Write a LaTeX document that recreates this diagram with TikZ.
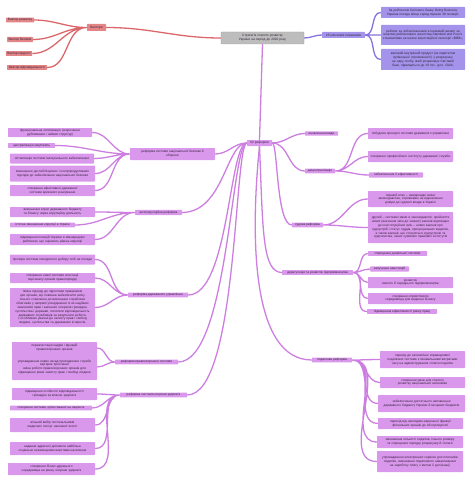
\documentclass[tikz,border=0pt]{standalone}
\usepackage{fontspec}
\setmainfont{Liberation Sans}
\definecolor{rootfill}{HTML}{BDBDBD}
\definecolor{rootline}{HTML}{9E9E9E}
\definecolor{redfill}{HTML}{E38587}
\definecolor{redline}{HTML}{DC676B}
\definecolor{bluefill}{HTML}{A393EA}
\definecolor{blueline}{HTML}{8572DE}
\definecolor{purfill}{HTML}{DA98EC}
\definecolor{purline}{HTML}{CD7FE1}
\definecolor{inktext}{HTML}{33233A}
\hyphenpenalty=10000
\exhyphenpenalty=10000

\begin{document}
\begin{tikzpicture}[x=1pt,y=-1pt,
    every node/.style={font=\fontsize{3.2}{3.85}\selectfont,text=inktext,inner ysep=1pt,inner xsep=1.5pt,align=center,rounded corners=0.6pt},
    rootbox/.style={fill=rootfill,draw=rootline,line width=0.4pt,text width=80pt,minimum height=12pt},
    redbox/.style={fill=redfill},
    bluebox/.style={fill=bluefill},
    purbox/.style={fill=purfill},
    redlink/.style={draw=redline,line width=1.3pt},
    bluelink/.style={draw=blueline,line width=1.3pt},
    purlink/.style={draw=purline,line width=1.3pt}]

    \useasboundingbox (0,0) rectangle (474,484);

    \node[rootbox] (root) at (262.5,38) {Стратегія сталого розвитку України на період до 2020 року};

    \node[redbox,minimum width=19pt,minimum height=7pt] (vec) at (96.5,27.5) {Вектори};
    \node[redbox,minimum width=28pt] (v1) at (20,20) {Вектор розвитку};
    \node[redbox,minimum width=26pt] (v2) at (20,39.5) {Вектор безпеки};
    \node[redbox,minimum width=24pt] (v3) at (19,53.5) {Вектор гордості};
    \node[redbox,minimum width=40pt] (v4) at (27,67.5) {Вектор відповідальності};

    \node[bluebox,minimum width=43pt,minimum height=6pt] (kp) at (343.5,35) {25 ключових показників};
    \node[bluebox,text width=81pt,minimum height=11pt] (b1) at (423,12.5) {За рейтингом Світового банку Doing Business Україна посяде місце серед перших 30 позицій;};
    \node[bluebox,text width=81pt,minimum height=20pt] (b2) at (423,35) {рейтинг за зобов’язаннями в іноземній валюті за шкалою рейтингового агентства Standard and Poor’s становитиме не нижче інвестиційної категорії «ВВВ»;};
    \node[bluebox,text width=81pt,minimum height=21pt] (b3) at (423,59.5) {валовий внутрішній продукт (за паритетом купівельної спроможності) у розрахунку на одну особу, який розраховує Світовий банк, підвищиться до 16 тис. дол. США;};

    \node[purbox,minimum width=25pt,minimum height=6pt] (r62) at (259.5,143) {62 реформи};
    \node[purbox,minimum width=33pt] (ov) at (321.5,133.5) {оновлення влади};
    \node[purbox,minimum width=30pt] (dc) at (320,171) {децентралізація};
    \node[purbox,minimum width=31pt] (sr) at (307.5,225) {судова реформа};
    \node[purbox,minimum width=71pt] (dr) at (317.5,272.5) {дерегуляція та розвиток підприємництва};
    \node[purbox,minimum width=40pt] (pr) at (332,360) {податкова реформа};
    \node[purbox,minimum width=85pt,minimum height=12pt] (nb) at (172.5,154) {реформа системи національної безпеки й\\оборони};
    \node[purbox,minimum width=47pt] (ak) at (158.5,212.5) {антикорупційна реформа};
    \node[purbox,minimum width=60pt] (du) at (158,295) {реформа державного управління};
    \node[purbox,minimum width=63pt] (po) at (146.5,362) {реформа правоохоронної системи};
    \node[purbox,minimum width=67pt] (hs) at (153.5,395) {реформа системи охорони здоров’я};

    \node[purbox,text width=81pt,minimum height=9pt] (nb1) at (50,132.5) {функціональна оптимізація (скорочення дублювання і зайвих структур)};
    \node[purbox,minimum width=47pt] (nb2) at (31.5,145.5) {централізація закупівель};
    \node[purbox,text width=81pt,minimum height=10pt] (nb3) at (52,158.5) {оптимізація системи матеріального забезпечення};
    \node[purbox,text width=82pt,minimum height=16pt] (nb4) at (52.5,173.5) {зменшення дестабілізуючих і контрпродуктивних підходів до забезпечення національної безпеки};
    \node[purbox,text width=82pt,minimum height=11pt] (nb5) at (52.5,190.5) {створення ефективної державної системи кризового реагування};

    \node[purbox,text width=82pt,minimum height=10pt] (ak1) at (52.5,212) {зменшення втрат державного бюджету та бізнесу через корупційну діяльність};
    \node[purbox,minimum width=65pt] (ak2) at (42.5,225) {істотне зменшення корупції в Україні};
    \node[purbox,text width=82pt,minimum height=11pt] (ak3) at (52.5,239.5) {підвищення позицій України в міжнародних рейтингах, що оцінюють рівень корупції};

    \node[purbox,text width=82pt,minimum height=10pt] (du1) at (52.5,259.5) {прозора система конкурсного добору осіб на посади};
    \node[purbox,text width=82pt,minimum height=10pt] (du2) at (52.5,278) {створення нової системи атестації персоналу органів правопорядку};
    \node[purbox,text width=82pt,minimum height=39pt] (du3) at (52.5,307.5) {Зміна підходу до підготовки працівників цих органів, що повинна забезпечити зміну їхнього ставлення до виконання службових обов’язків у напрямі утвердження їх як надійних захисників прав і законних інтересів громадян, суспільства і держави, посилити відповідальність державних службовців за результати роботи, з особливою увагою до захисту прав і свобод людини, суспільства та державних інтересів.};

    \node[purbox,text width=82pt,minimum height=12pt] (po1) at (54.5,348) {переатестація кадрів і функцій правоохоронних органів};
    \node[purbox,text width=82pt,minimum height=26pt] (po2) at (54.5,367) {упровадження нових засад проходження служби\\кар’єрне зростання\\зміна роботи правоохоронних органів для підвищення рівня захисту прав і свобод людини};

    \node[purbox,text width=82pt,minimum height=12pt] (hs1) at (54.5,394) {підвищення особистої відповідальності громадян за власне здоров’я};
    \node[purbox,minimum width=82pt] (hs2) at (51,408) {створення системи, орієнтованої на пацієнта};
    \node[purbox,text width=82pt,minimum height=14pt] (hs3) at (52.5,425) {вільний вибір постачальників медичних послуг належної якості};
    \node[purbox,text width=82pt,minimum height=13pt] (hs4) at (52.5,448.5) {надання адресної допомоги найбільш соціально незахищеним верствам населення};
    \node[purbox,text width=84pt,minimum height=12pt] (hs5) at (51.5,469) {створення бізнес-дружнього середовища на ринку охорони здоров’я};

    \node[purbox,text width=82pt,minimum height=11pt] (dc1) at (410.5,133.5) {побудова прозорої системи державного управління};
    \node[purbox,text width=82pt,minimum height=11pt] (dc2) at (410.5,156.5) {створення професійного інституту державної служби};
    \node[purbox,minimum width=54pt] (dc3) at (396,175) {забезпечення її ефективності};

    \node[purbox,text width=82pt,minimum height=16pt] (sr1) at (410.5,199) {перший етап – невідкладні зміни законодавства, спрямовані на відновлення довіри до судової влади в Україні};
    \node[purbox,text width=82pt,minimum height=31pt] (sr2) at (410.5,227.5) {другий – системні зміни в законодавстві, прийняття нових (внесення змін до чинних) законів відповідно до конституційних змін – нових законів про судоустрій і статус суддів, процесуальних кодексів, а також законів, що стосуються судоустрою та судочинства, інших суміжних правових інститутів};

    \node[purbox,minimum width=59pt] (dr1) at (397.5,253.5) {спрощення дозвільної системи};
    \node[purbox,minimum width=39pt] (dr2) at (389.5,269) {залучення інвестицій};
    \node[purbox,text width=82pt,minimum height=11pt] (dr3) at (410.5,282.5) {розвиток\\малого й середнього підприємництва};
    \node[purbox,text width=82pt,minimum height=11pt] (dr4) at (410.5,298.5) {створення сприятливого середовища для ведення бізнесу};
    \node[purbox,minimum width=70pt] (dr5) at (402,311.5) {підвищення ефективності ринку праці};

    \node[purbox,text width=82pt,minimum height=17pt] (pr1) at (422.5,359.5) {перехід до економічно справедливої податкової системи з мінімальними витратами часу на адміністрування сплати податків};
    \node[purbox,text width=82pt,minimum height=11pt] (pr2) at (422.5,382.5) {створення умов для сталого розвитку національної економіки};
    \node[purbox,text width=84pt,minimum height=17pt] (pr3) at (421.5,403.5) {забезпечення достатнього наповнення державного бюджету України й місцевих бюджетів};
    \node[purbox,text width=82pt,minimum height=11pt] (pr4) at (420.5,423.5) {перехід від наглядово-каральної функції фіскальних органів до обслуговуючої};
    \node[purbox,text width=83pt,minimum height=12pt] (pr5) at (420,442) {зменшення кількості податків, їхнього розміру та спрощення порядку розрахунку й сплати};
    \node[purbox,text width=83pt,minimum height=21pt] (pr6) at (420,461.5) {упровадження електронних сервісів для платників податків, зменшення податкового навантаження на заробітну плату з метою її детінізації};

    \draw[redlink] (root.west) to[out=180,in=0] (vec.east);
    \draw[redlink] (vec.west) to[out=180,in=0] (v1.east) (vec.west) to[out=180,in=0] (v2.east)
        (vec.west) to[out=180,in=0] (v3.east) (vec.west) to[out=180,in=0] (v4.east);

    \draw[bluelink] (root.east) to[out=0,in=180] (kp.west);
    \draw[bluelink] (kp.east) to[out=0,in=180] (b1.west) (kp.east) to[out=0,in=180] (b2.west)
        (kp.east) to[out=0,in=180] (b3.west);

    \draw[purlink] (root.south) -- (r62.north);
    \draw[purlink] (r62.west) to[out=180,in=0] (nb.east);
    \draw[purlink] (r62.west) .. controls (226,143) and (224,212) .. (ak.east);
    \draw[purlink] (r62.west) .. controls (229,143) and (229,295) .. (du.east);
    \draw[purlink] (r62.west) .. controls (231,144) and (228,362) .. (po.east);
    \draw[purlink] (r62.west) .. controls (234,145) and (238,395) .. (hs.east);
    \draw[purlink] (r62.east) to[out=0,in=180] (ov.west);
    \draw[purlink] (r62.east) to[out=0,in=180] (dc.west);
    \draw[purlink] (r62.east) .. controls (278,143) and (276,225) .. (sr.west);
    \draw[purlink] (r62.south) .. controls (263,230) and (262,272) .. (dr.west);
    \draw[purlink] (r62.south) .. controls (250,240) and (252,360) .. (pr.west);

    \draw[purlink] (nb.west) to[out=180,in=0] (nb1.east) (nb.west) to[out=180,in=0] (nb2.east)
        (nb.west) to[out=180,in=0] (nb3.east) (nb.west) to[out=180,in=0] (nb4.east)
        (nb.west) to[out=180,in=0] (nb5.east);
    \draw[purlink] (ak.west) to[out=180,in=0] (ak1.east) (ak.west) to[out=180,in=0] (ak2.east)
        (ak.west) to[out=180,in=0] (ak3.east);
    \draw[purlink] (du.west) to[out=180,in=0] (du1.east) (du.west) to[out=180,in=0] (du2.east)
        (du.west) to[out=180,in=0] (du3.east);
    \draw[purlink] (po.west) to[out=180,in=0] (po1.east) (po.west) to[out=180,in=0] (po2.east);
    \draw[purlink] (hs.west) to[out=180,in=0] (hs1.east) (hs.west) to[out=180,in=0] (hs2.east)
        (hs.west) to[out=180,in=0] (hs3.east) (hs.west) to[out=180,in=0] (hs4.east)
        (hs.west) to[out=180,in=0] (hs5.east);

    \draw[purlink] (dc.east) to[out=0,in=180] (dc1.west) (dc.east) to[out=0,in=180] (dc2.west)
        (dc.east) to[out=0,in=180] (dc3.west);
    \draw[purlink] (sr.east) to[out=0,in=180] (sr1.west) (sr.east) to[out=0,in=180] (sr2.west);
    \draw[purlink] (dr.east) to[out=0,in=180] (dr1.west) (dr.east) to[out=0,in=180] (dr2.west)
        (dr.east) to[out=0,in=180] (dr3.west) (dr.east) to[out=0,in=180] (dr4.west)
        (dr.east) to[out=0,in=180] (dr5.west);
    \draw[purlink] (pr.east) to[out=0,in=180] (pr1.west) (pr.east) to[out=0,in=180] (pr2.west)
        (pr.east) to[out=0,in=180] (pr3.west) (pr.east) to[out=0,in=180] (pr4.west)
        (pr.east) to[out=0,in=180] (pr5.west) (pr.east) to[out=0,in=180] (pr6.west);

\end{tikzpicture}
\end{document}
